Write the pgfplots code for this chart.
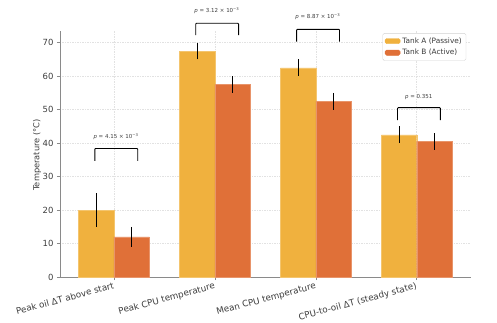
\documentclass[border=0pt]{standalone}
\usepackage{pgfplots}
\pgfplotsset{compat=1.18}
\usepackage{fontspec}
\setmainfont{DejaVu Sans}
\definecolor{tankA}{HTML}{F0B13E}
\definecolor{tankB}{HTML}{E07038}
\definecolor{gridc}{HTML}{E2E2E2}
\definecolor{spine}{HTML}{8A8A8A}
\definecolor{labc}{HTML}{3C3C3C}
\newcommand{\pfont}{\fontsize{5.5}{6}\selectfont}
\begin{document}
\begin{tikzpicture}
\path[use as bounding box] (-60bp,-46bp) rectangle (437bp,277bp);
\begin{axis}[
  at={(0,0)}, anchor=south west,
  scale only axis, width=410.7bp, height=246bp,
  xmin=-0.535, xmax=3.535, ymin=0, ymax=73.5,
  axis x line*=bottom, axis y line*=left,
  axis line style={spine, line width=0.8pt},
  clip=false,
  grid=major,
  grid style={gridc, line width=0.5pt, dash pattern=on 1.5pt off 1pt},
  xtick={0,1,2,3},
  xticklabels={Peak oil ΔT above start, Peak CPU temperature, Mean CPU temperature, CPU-to-oil ΔT (steady state)},
  ytick={0,10,20,30,40,50,60,70},
  tick style={spine, line width=0.6pt},
  major tick length=3bp,
  tick align=outside,
  /pgf/number format/assume math mode=true,
  tick label style={font=\fontsize{8.5}{9}\selectfont, text=labc},
  x tick label style={rotate=15, anchor=north east, inner sep=1.5bp, font=\fontsize{8.8}{10}\selectfont},
  ylabel={Temperature (°C)},
  ylabel style={at={(axis description cs:-0.0560,0.496)}, anchor=center, font=\fontsize{8.3}{9}\selectfont, text=labc},
  legend style={at={(axis description cs:0.989,0.991)}, anchor=north east, draw=gray!35, rounded corners=1.5pt,
    font=\fontsize{7.4}{8.5}\selectfont, text=labc, cells={anchor=west}, inner sep=2.2bp, row sep=0.5bp},
]
\addplot[ybar, bar width=0.35, bar shift=0pt, fill=tankA, draw=tankA!75!white, line width=0.4pt,
  legend image code/.code={\fill[tankA] (0bp,-2.6bp) rectangle (15bp,2.6bp);},
  error bars/.cd, y dir=both, y explicit, error mark=none,
  error bar style={black, line width=1.1pt, solid}]
  coordinates {(-0.175,20) +- (0,5) (0.825,67.5) +- (0,2.5) (1.825,62.5) +- (0,2.5) (2.825,42.5) +- (0,2.5)};
\addlegendentry{Tank A (Passive)}
\addplot[ybar, bar width=0.35, bar shift=0pt, fill=tankB, draw=tankB!75!white, line width=0.4pt,
  legend image code/.code={\fill[tankB] (0bp,-2.6bp) rectangle (15bp,2.6bp);},
  error bars/.cd, y dir=both, y explicit, error mark=none,
  error bar style={black, line width=1.1pt, solid}]
  coordinates {(0.175,12) +- (0,3) (1.175,57.5) +- (0,2.5) (2.175,52.5) +- (0,2.5) (3.175,40.5) +- (0,2.5)};
\addlegendentry{Tank B (Active)}
% significance brackets
\addplot[black, line width=0.9pt, no marks, sharp plot, rounded corners=0.8pt, forget plot]
  coordinates {(-0.19,34.7) (-0.19,38.4) (0.235,38.4) (0.235,34.7)};
\addplot[black, line width=0.9pt, no marks, sharp plot, rounded corners=0.8pt, forget plot]
  coordinates {(0.81,72.3) (0.81,75.8) (1.235,75.8) (1.235,72.3)};
\addplot[black, line width=0.9pt, no marks, sharp plot, rounded corners=0.8pt, forget plot]
  coordinates {(1.81,70.3) (1.81,74.0) (2.235,74.0) (2.235,70.3)};
\addplot[black, line width=0.9pt, no marks, sharp plot, rounded corners=0.8pt, forget plot]
  coordinates {(2.81,46.9) (2.81,50.6) (3.235,50.6) (3.235,46.9)};
\node[font=\pfont, text=labc] at (axis cs:0.02,41.9) {\textit{p} = 4.15 × 10\textsuperscript{−3}};
\node[font=\pfont, text=labc] at (axis cs:1.02,79.5) {\textit{p} = 3.12 × 10\textsuperscript{−3}};
\node[font=\pfont, text=labc] at (axis cs:2.02,77.8) {\textit{p} = 8.87 × 10\textsuperscript{−3}};
\node[font=\pfont, text=labc] at (axis cs:3.02,53.9) {\textit{p} = 0.351};
\end{axis}
\end{tikzpicture}
\end{document}
